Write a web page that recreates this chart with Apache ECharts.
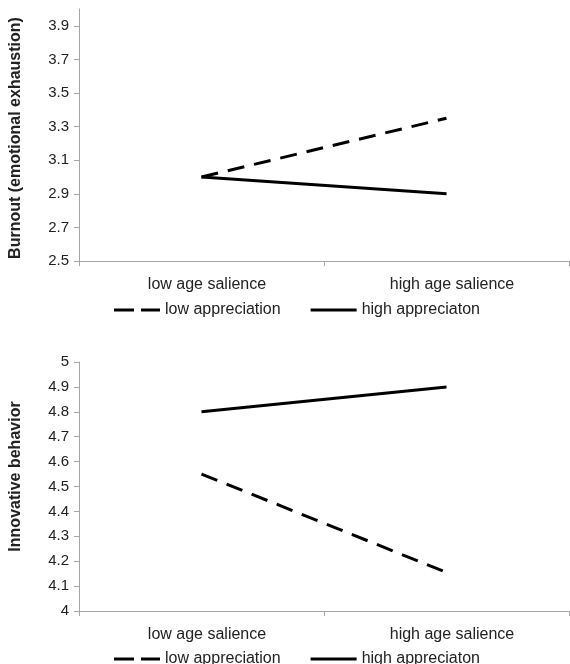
<!DOCTYPE html>
<html>
<head>
<meta charset="utf-8">
<script src="https://cdn.jsdelivr.net/npm/echarts@6/dist/echarts.min.js"></script>
<style>
html,body{margin:0;padding:0;background:#fff;}
#c{width:570px;height:664px;}
</style>
</head>
<body>
<div id="c"></div>
<script>
var categories = ['low age salience', 'high age salience'];
var seriesNames = ['low appreciation', 'high appreciaton'];
var burnoutLow = [3.0, 3.35];
var burnoutHigh = [3.0, 2.9];
var innovLow = [4.55, 4.155];
var innovHigh = [4.8, 4.9];
var burnoutTicks = [2.5, 2.7, 2.9, 3.1, 3.3, 3.5, 3.7, 3.9];
var innovTicks = [4, 4.1, 4.2, 4.3, 4.4, 4.5, 4.6, 4.7, 4.8, 4.9, 5];
var burnoutTitle = 'Burnout (emotional exhaustion)';
var innovTitle = 'Innovative behavior';

var FONT = '"Liberation Sans", Arial, sans-serif';
var axisGray = '#a6a6a6';
var textCol = '#222';
var DASH_ICON = 'path://M0,0H20V3H0Z M27,0H46V3H27Z';
var SOLID_ICON = 'path://M0,0H46V3H0Z';

function yAxis(gi, min, max, ticks, title, pad) {
  return {
    type: 'value', gridIndex: gi, min: min, max: max,
    name: title, nameLocation: 'middle', nameGap: 55,
    nameTextStyle: {fontFamily: FONT, fontSize: 16, fontWeight: 'bold', color: textCol, padding: pad},
    axisLine: {show: true, lineStyle: {color: axisGray, width: 1}},
    axisTick: {show: true, length: 5, customValues: ticks, lineStyle: {color: axisGray}},
    axisLabel: {customValues: ticks, margin: 10, fontFamily: FONT, fontSize: 15, color: textCol,
      formatter: function (v) { return String(Math.round(v * 10) / 10); }},
    splitLine: {show: false}
  };
}
function xAxis(gi) {
  return {
    type: 'category', gridIndex: gi, data: categories, boundaryGap: true,
    axisLine: {show: true, lineStyle: {color: axisGray, width: 1}},
    axisTick: {show: true, length: 5, lineStyle: {color: axisGray}},
    axisLabel: {margin: 16, fontFamily: FONT, fontSize: 16, color: textCol, padding: [0, 0, 0, 11]}
  };
}
function line(name, xi, data, dashed) {
  return {
    type: 'line', name: name, xAxisIndex: xi, yAxisIndex: xi, data: data,
    symbol: 'none', showSymbol: false, silent: true, animation: false,
    lineStyle: {color: '#000', width: 3, type: dashed ? [17, 10] : 'solid'},
    itemStyle: {color: '#000'}
  };
}
function legend(top) {
  return {
    top: top, left: 109, itemWidth: 46, itemHeight: 3, itemGap: 30, selectedMode: false,
    itemStyle: {color: '#000', borderWidth: 0},
    lineStyle: {width: 0},
    textStyle: {fontFamily: FONT, fontSize: 16, color: textCol},
    data: [
      {name: seriesNames[0], icon: DASH_ICON},
      {name: seriesNames[1], icon: SOLID_ICON}
    ]
  };
}

var chart = echarts.init(document.getElementById('c'), null, {renderer: 'canvas'});
chart.setOption({
  animation: false,
  backgroundColor: '#fff',
  grid: [
    {left: 78, width: 491, top: 9, height: 252},
    {left: 78, width: 491, top: 362, height: 249}
  ],
  xAxis: [xAxis(0), xAxis(1)],
  yAxis: [
    yAxis(0, 2.5, 4.0, burnoutTicks, burnoutTitle, [0, 6, 0, 0]),
    yAxis(1, 4, 5, innovTicks, innovTitle, [0, 0, 0, 20])
  ],
  legend: [legend(297), legend(646)],
  series: [
    line(seriesNames[0], 0, burnoutLow, true),
    line(seriesNames[1], 0, burnoutHigh, false),
    line(seriesNames[0], 1, innovLow, true),
    line(seriesNames[1], 1, innovHigh, false)
  ]
});
</script>
</body>
</html>
